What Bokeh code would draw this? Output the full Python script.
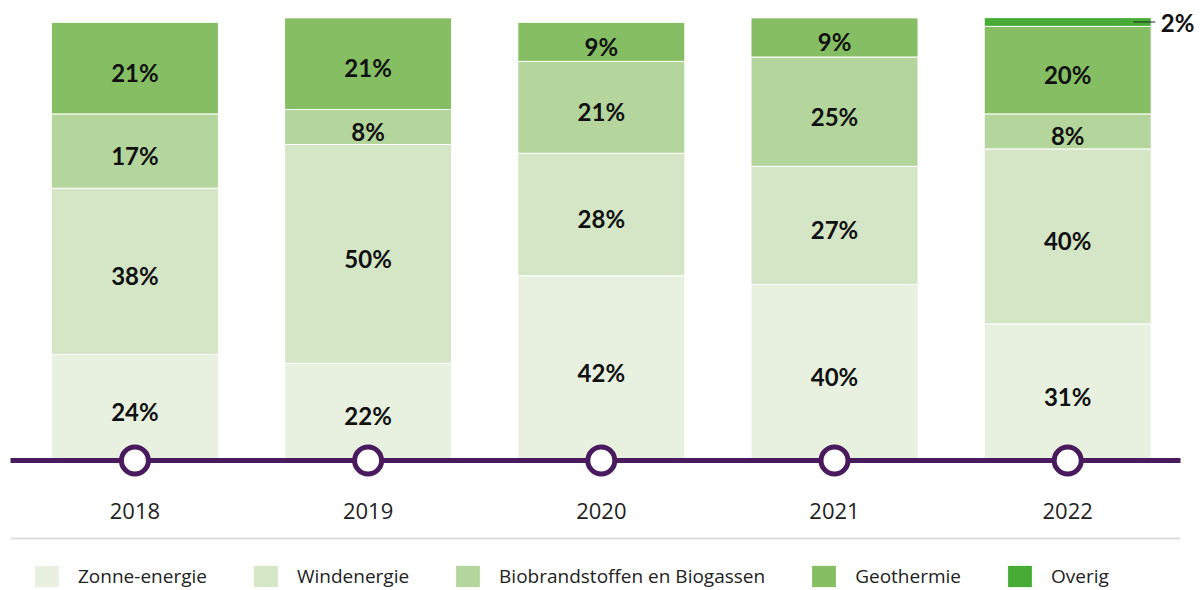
from bokeh.plotting import figure
from bokeh.models import Range1d, ColumnDataSource, Legend, LegendItem
from bokeh.core.properties import value
from bokeh.embed import file_html
from bokeh.resources import INLINE

# ---- data ----
years = ["2018", "2019", "2020", "2021", "2022"]
series = ["Zonne-energie", "Windenergie", "Biobrandstoffen en Biogassen", "Geothermie", "Overig"]
zonne = [24, 22, 42, 40, 31]
wind = [38, 50, 28, 27, 40]
bio = [17, 8, 21, 25, 8]
geo = [21, 21, 9, 9, 20]
overig = [0, 0, 0, 0, 2]
colors = ["#e8f1e0", "#d4e6c6", "#b4d69c", "#86bf63", "#46ac36"]

# ---- layout constants (px) ----
W, H = 1202, 590
px_per_unit = 233.2
x0 = 0.5 - 134.4 / px_per_unit
x1 = x0 + W / px_per_unit
px_per_pct = 4.375
base_px = 459
y1 = base_px / px_per_pct
y0 = -(H - base_px) / px_per_pct

keys = ["zonne", "wind", "bio", "geo", "overig"]
data = dict(x=[i + 0.5 for i in range(len(years))], year=years,
            zonne=zonne, wind=wind, bio=bio, geo=geo, overig=overig)
src = ColumnDataSource(data)

p = figure(width=W, height=H, x_range=Range1d(x0, x1), y_range=Range1d(y0, y1),
           output_backend="svg", toolbar_location=None, min_border=0,
           x_axis_type=None, y_axis_type=None)
p.grid.visible = False
p.outline_line_color = None
p.background_fill_color = "white"

renderers = p.vbar_stack(keys, x="x", width=167 / px_per_unit, color=colors, source=src,
                         line_color="white", line_width=1)

# ---- segment labels ----
lx, ly, lt = [], [], []
ox, oy, ot = [], [], []
lead_x0, lead_x1, lead_y = [], [], []
for i in range(len(years)):
    base = 0
    for k in keys:
        v = data[k][i]
        if v > 0:
            c = base + v / 2
            if v >= 5:
                lx.append(i + 0.5); ly.append(c - 1.0); lt.append(f"{v}%")
            else:
                ox.append(i + 0.5 + 0.399); oy.append(c); ot.append(f"{v}%")
                lead_x0.append(i + 0.5 + 0.282); lead_x1.append(i + 0.5 + 0.376); lead_y.append(c)
        base += v

p.text(x=lx, y=ly, text=lt, text_font=value("Lato"), text_font_style="bold",
       text_font_size="24px", text_align="center", text_baseline="middle", text_color="#111111")
p.segment(x0=lead_x0, y0=lead_y, x1=lead_x1, y1=lead_y, line_color="#222222", line_width=1)
p.text(x=ox, y=oy, text=ot, text_font=value("Lato"), text_font_style="bold",
       text_font_size="24px", text_align="left", text_baseline="middle", text_color="#111111")

# ---- timeline ----
n = len(years)
line_y = -1 / px_per_pct
p.segment(x0=[x0 + 10 / px_per_unit], y0=[line_y], x1=[x0 + 1180 / px_per_unit], y1=[line_y],
          line_color="#4a1a5f", line_width=5)
p.scatter(x=data["x"], y=[line_y] * n, size=27, fill_color="white",
          line_color="#4a1a5f", line_width=5)

# year labels
p.text(x=data["x"], y=[-51 / px_per_pct] * n, text=years, text_font=value("Open Sans"),
       text_font_size="22px", text_align="center", text_baseline="middle", text_color="#222222")

# gray separator
p.segment(x0=[x0 + 10 / px_per_unit], y0=[-79 / px_per_pct], x1=[x0 + 1180 / px_per_unit],
          y1=[-79 / px_per_pct], line_color="#dddddd", line_width=2)

# ---- legend ----
items = [LegendItem(label=s, renderers=[r]) for s, r in zip(series, renderers)]
legend = Legend(items=items, orientation="horizontal", location=(31, 0),
                glyph_width=31, glyph_height=28, label_standoff=16, spacing=43,
                padding=0, margin=0, border_line_color=None, background_fill_alpha=0,
                label_text_font="Open Sans", label_text_font_size="19px",
                label_text_color="#222222")
p.add_layout(legend, "center")

open("out.html", "w").write(file_html(p, INLINE))
